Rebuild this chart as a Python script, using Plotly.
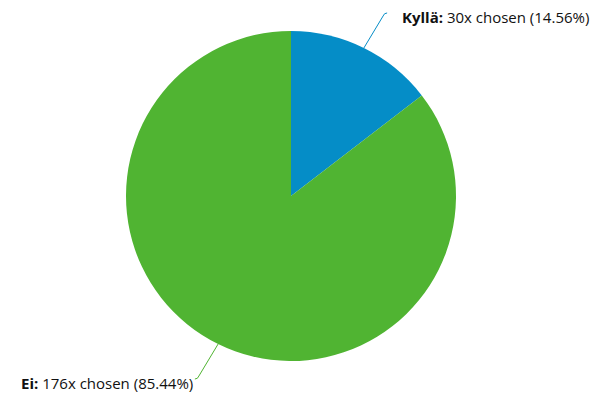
import math
import plotly.graph_objects as go

# Poll results
labels = ["Kyllä", "Ei"]
counts = [30, 176]
colors = ["#058DC7", "#50B432"]

W, H = 598, 398
CX, CY, R = 291, 196, 165          # pie centre and radius, pixels
LABEL_DIST = 39                    # distance from rim to label line
FONT = "Open Sans"

total = sum(counts)
pcts = [100.0 * c / total for c in counts]


def px(x):
    return x / W


def py(y):
    return 1 - y / H


fig = go.Figure(go.Pie(
    labels=labels,
    values=counts,
    marker=dict(colors=colors, line=dict(width=0)),
    sort=False,
    direction="clockwise",
    rotation=0,
    textinfo="none",
    hoverinfo="none",
    showlegend=False,
    domain=dict(x=[px(CX - R), px(CX + R)], y=[py(CY + R), py(CY - R)]),
))

shapes = []
annotations = []
cum = 0.0
for lab, cnt, pct, col in zip(labels, counts, pcts, colors):
    mid = (cum + cnt / 2) / total * 2 * math.pi
    cum += cnt
    sx, sy = math.sin(mid), -math.cos(mid)
    side = 1 if sx >= 0 else -1
    vert = 1 if sy > 0 else -1
    # rim point, elbow and end of the connector
    x0, y0 = CX + R * sx, CY + R * sy
    ye = CY + (R + LABEL_DIST) * sy
    xe = CX + (R + LABEL_DIST) * sx + 6 * side
    xk = xe - 4 * side
    path = (f"M {px(x0)},{py(y0)} L {px(xk)},{py(ye - 3 * vert)} "
            f"Q {px(xk + side)},{py(ye)} {px(xe)},{py(ye)}")
    shapes.append(dict(type="path", xref="paper", yref="paper", path=path,
                       line=dict(color=col, width=1)))
    text = f"<b>{lab}:</b> {cnt}x chosen ({pct:.2f}%)"
    annotations.append(dict(
        x=px(xe), y=py(ye), xref="paper", yref="paper",
        text=text, showarrow=False,
        xanchor="left" if side > 0 else "right", yanchor="middle",
        xshift=13 if side > 0 else 0, yshift=-4,
        font=dict(family=FONT, size=15, color="#111111"),
    ))

fig.update_layout(
    width=W, height=H,
    margin=dict(l=0, r=0, t=0, b=0),
    paper_bgcolor="white", plot_bgcolor="white",
    shapes=shapes, annotations=annotations,
)

fig.write_html("out.html", config={"displayModeBar": False})
